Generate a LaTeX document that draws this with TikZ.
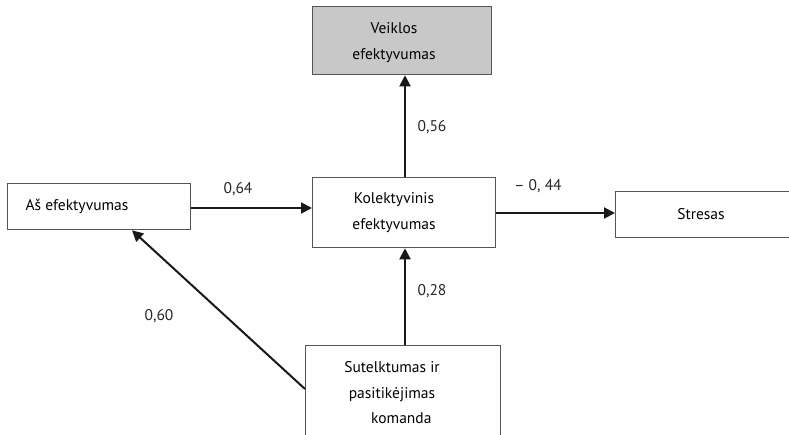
\documentclass[tikz,border=0pt]{standalone}
\usepackage{fontspec}
\setmainfont{PT Sans}
\usetikzlibrary{arrows.meta,calc}
\definecolor{boxline}{HTML}{555555}
\definecolor{boxfill}{HTML}{C8C8C8}
\tikzset{
  box/.style={draw=boxline, line width=1.3pt, rectangle, inner sep=0pt, font=\fontsize{15.5}{26}\selectfont},
  arr/.style={draw=black!90, line width=2pt, -{Triangle[length=11pt,width=11pt]}},
  lab/.style={font=\fontsize{15.5}{18}\selectfont, text=black!85},
}
\begin{document}
\begin{tikzpicture}[x=1pt,y=-1pt]
\useasboundingbox (0,0) rectangle (789,435);
\clip (0,0) rectangle (789,435);
% boxes
\node[box, fill=boxfill, minimum width=179pt, minimum height=68pt, anchor=north west] (vei) at (312,6) {};
\node[font=\fontsize{15.5}{26}\selectfont, align=center] (veit) at (394,43) {Veiklos\\efektyvumas};
\node[box, minimum width=183pt, minimum height=46pt, anchor=north west] (as) at (7,183) {};
\node[font=\fontsize{15.5}{18}\selectfont, anchor=west] (ast) at (22,206) {Aš efektyvumas};
\node[box, minimum width=183pt, minimum height=70pt, anchor=north west] (kol) at (312,177) {};
\node[font=\fontsize{15.5}{26}\selectfont, align=center] (kolt) at (394,213) {Kolektyvinis\\efektyvumas};
\node[box, minimum width=190pt, minimum height=46pt, anchor=north west] (str) at (615,191) {};
\node[font=\fontsize{15.5}{18}\selectfont] (strt) at (701,214) {Stresas};
\node[box, minimum width=195pt, minimum height=100pt, anchor=north west] (sut) at (305,345) {};
\node[font=\fontsize{15.5}{25.5}\selectfont, align=center] (sutt) at (392,393) {Sutelktumas ir\\pasitikėjimas\\\hspace*{1.2em}komanda};
% connector end points
\coordinate (sutw) at ($(sut.north west)+(0,44)$);
\coordinate (asb) at ($(as.south west)+(125,0)$);
% arrows
\draw[arr] (as.east |- 0,208) -- (kol.west |- 0,208);
\draw[arr] (kol.east |- 0,213) -- (str.west |- 0,213);
\draw[arr] (kol.north -| 405,0) -- (vei.south -| 405,0);
\draw[arr] (sut.north -| 405,0) -- (kol.south -| 405,0);
\draw[arr] (sutw) -- (asb);
% labels
\node[lab] (l64) at (238,189) {0,64};
\node[lab] (l44) at (538,186) {– 0, 44};
\node[lab] (l56) at (432,127) {0,56};
\node[lab] (l28) at (432,291) {0,28};
\node[lab] (l60) at (159,316) {0,60};
\end{tikzpicture}
\end{document}
